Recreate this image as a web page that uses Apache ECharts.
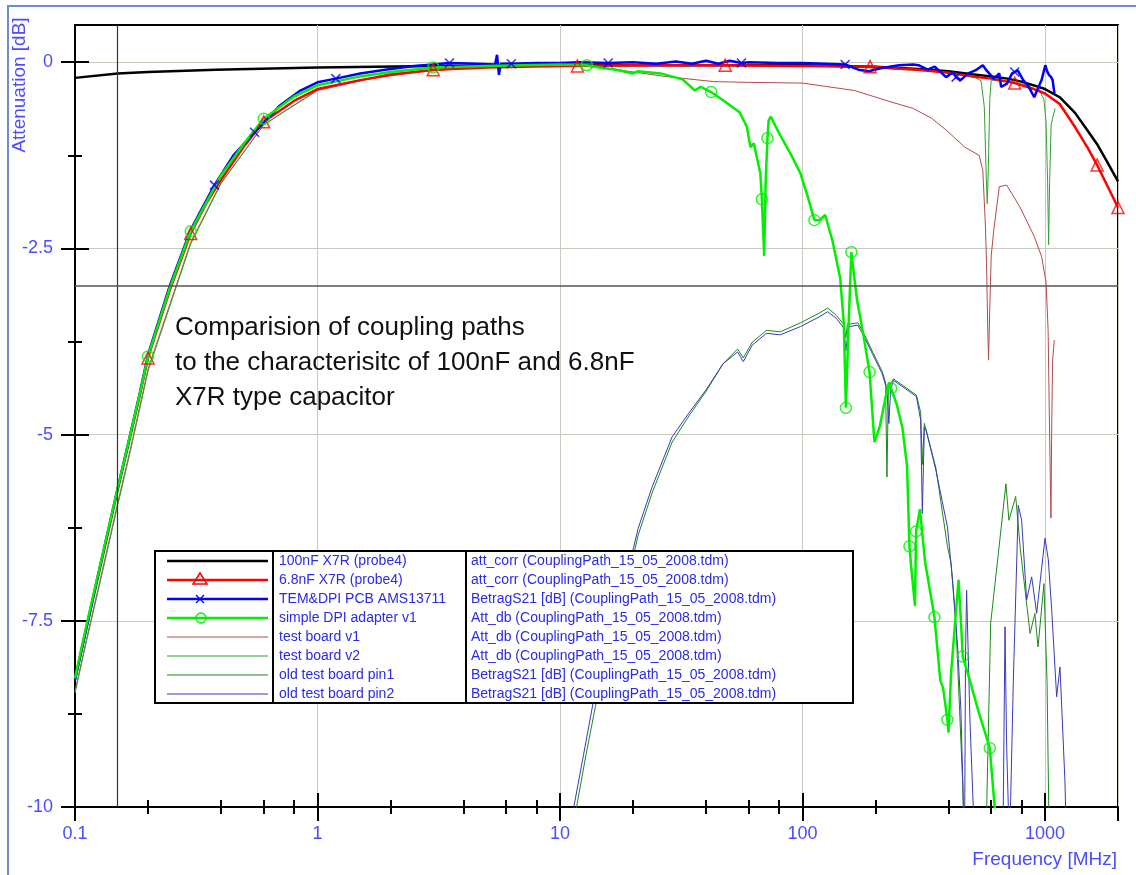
<!DOCTYPE html>
<html>
<head>
<meta charset="utf-8">
<title>Comparision of coupling paths</title>
<script src="https://cdn.jsdelivr.net/npm/echarts@6/dist/echarts.min.js"></script>
<style>
html, body { margin: 0; padding: 0; background: #fff; }
#chart { width: 1136px; height: 875px; }
</style>
</head>
<body>
<div id="chart"></div>
<script>
// axis ranges and ticks
const FREQ_MIN = 0.1;
const FREQ_MAX = 2000;
const DB_MIN = -10;
const DB_MAX = 0.5;
const xMajor = [0.1, 1, 10, 100, 1000];
const xMajorTicks = [0.1, 1, 10, 100, 1000, 2000];
const xMinor = [0.2, 0.4, 0.6, 0.8, 2, 4, 6, 8, 20, 40, 60, 80, 200, 400, 600, 800];
const yMajor = [-10, -7.5, -5, -2.5, 0];
const yMinor = [-8.75, -6.25, -3.75, -1.25];
// cursor lines
const CURSOR_FREQ = 0.15;
const CURSOR_DB = -3;

// [MHz, dB]
const cap100n = [[0.1,-0.21],[0.15,-0.15],[0.2,-0.13],[0.38,-0.1],[1,-0.07],[3,-0.05],[10,-0.04],[100,-0.04],[200,-0.06],[300,-0.09],[400,-0.12],[500,-0.16],[600,-0.19],[700,-0.22],[800,-0.26],[900,-0.31],[1000,-0.36],[1150,-0.47],[1330,-0.68],[1500,-0.92],[1640,-1.1],[1800,-1.33],[2000,-1.6]];

const cap6n8 = [[0.1,-8.29],[0.112,-7.56],[0.127,-6.78],[0.15,-5.74],[0.169,-5.02],[0.185,-4.47],[0.2,-3.97],[0.246,-3.06],[0.3,-2.3],[0.35,-1.88],[0.4,-1.58],[0.5,-1.12],[0.6,-0.8],[0.8,-0.52],[1,-0.36],[1.5,-0.24],[2,-0.17],[3,-0.1],[5,-0.07],[10,-0.05],[20,-0.04],[48,-0.04],[100,-0.05],[190,-0.06],[300,-0.1],[400,-0.14],[500,-0.19],[600,-0.22],[750,-0.28],[900,-0.36],[1000,-0.42],[1150,-0.56],[1330,-0.87],[1500,-1.15],[1640,-1.38],[2000,-1.95]];
const cap6n8Marks = [[0.2,-3.97],[0.3,-2.3],[0.6,-0.8],[3,-0.1],[11.8,-0.05],[48,-0.04],[190,-0.06],[750,-0.28],[1640,-1.38],[2000,-1.95]];

const temDpi = [[0.1,-8.29],[0.127,-6.76],[0.15,-5.72],[0.169,-5.0],[0.185,-4.44],[0.2,-3.93],[0.246,-3.0],[0.3,-2.25],[0.376,-1.65],[0.45,-1.25],[0.55,-0.94],[0.7,-0.58],[0.85,-0.38],[1,-0.27],[1.19,-0.22],[1.5,-0.15],[1.9,-0.1],[2.5,-0.05],[3,-0.03],[3.5,-0.01],[4.5,-0.02],[5.4,-0.03],[5.5,0.1],[5.6,-0.17],[5.7,-0.02],[6.3,-0.02],[8,-0.01],[10,-0.01],[12,0.0],[15.8,-0.01],[20,0.0],[25,-0.02],[30,0.01],[35,-0.02],[40,0.02],[45,-0.02],[50,0.02],[56,-0.01],[60,0.0],[80,-0.01],[100,-0.01],[150,-0.03],[170,-0.1],[188,-0.12],[210,-0.08],[250,-0.04],[286,-0.03],[301,-0.04],[328,-0.1],[351,-0.06],[391,-0.2],[419,-0.13],[430,-0.2],[449,-0.24],[482,-0.15],[516,-0.11],[554,-0.04],[574,-0.11],[615,-0.22],[648,-0.15],[659,-0.33],[695,-0.29],[732,-0.15],[772,-0.11],[813,-0.24],[857,-0.33],[903,-0.47],[935,-0.35],[968,-0.24],[1003,-0.04],[1020,-0.12],[1038,-0.17],[1060,-0.2],[1075,-0.24],[1094,-0.42]];
const temDpiMarks = [[0.376,-1.65],[0.55,-0.94],[1.19,-0.22],[3.5,-0.01],[6.3,-0.02],[15.8,-0.01],[56,-0.01],[150,-0.03],[430,-0.2],[750,-0.13]];

const simpleDpi = [[0.1,-8.27],[0.112,-7.53],[0.127,-6.75],[0.15,-5.72],[0.169,-5.0],[0.185,-4.45],[0.2,-3.95],[0.246,-3.03],[0.3,-2.27],[0.4,-1.52],[0.5,-1.08],[0.6,-0.76],[0.8,-0.46],[1,-0.31],[1.5,-0.19],[2,-0.13],[3,-0.07],[5,-0.05],[10,-0.03],[12.9,-0.04],[14.5,-0.07],[17,-0.1],[20,-0.15],[21,-0.12],[26,-0.15],[32,-0.23],[36,-0.38],[38,-0.33],[42,-0.4],[48,-0.53],[55,-0.67],[59,-0.87],[61,-1.14],[63,-1.09],[67,-1.49],[68,-1.84],[69.5,-2.6],[70.5,-1.6],[71.7,-1.02],[72.5,-0.78],[74,-0.73],[80,-0.95],[90,-1.25],[98,-1.49],[105,-1.8],[112,-2.12],[118,-2.12],[124,-2.05],[133,-2.4],[143,-2.9],[148,-3.5],[151,-4.64],[155,-3.5],[159,-2.55],[163,-2.85],[168,-3.2],[178,-3.65],[189,-4.16],[198,-5.1],[208,-4.9],[220,-4.5],[228,-4.3],[232,-4.38],[245,-4.6],[258,-4.9],[270,-5.43],[276,-6.5],[283,-6.9],[291,-7.3],[294,-6.3],[305,-6.0],[320,-6.7],[350,-7.45],[370,-8.3],[380,-8.4],[396,-8.83],[400,-9.0],[410,-8.2],[440,-6.95],[450,-7.5],[458,-7.98],[490,-8.3],[530,-8.7],[592,-9.21],[620,-10.0],[640,-10.6]];
const simpleDpiMarks = [[0.2,-3.95],[0.3,-2.27],[0.6,-0.76],[3,-0.07],[12.9,-0.04],[42,-0.4],[68,-1.84],[71.7,-1.02],[112,-2.12],[151,-4.64],[159,-2.55],[189,-4.16],[232,-4.38],[276,-6.5],[294,-6.3],[350,-7.45],[396,-8.83],[458,-7.98],[592,-9.21]];

const boardV1 = [[0.1,-8.45],[0.112,-7.72],[0.127,-6.95],[0.15,-5.92],[0.169,-5.2],[0.2,-4.12],[0.3,-2.42],[0.4,-1.62],[0.6,-0.84],[1,-0.38],[2,-0.16],[5,-0.06],[10,-0.04],[15,-0.07],[20,-0.13],[27,-0.19],[43,-0.26],[60,-0.27],[100,-0.28],[164,-0.38],[230,-0.53],[286,-0.62],[340,-0.75],[391,-0.91],[467,-1.14],[535,-1.25],[554,-1.45],[568,-2.2],[574,-2.7],[580,-3.5],[585,-4.0],[592,-3.3],[600,-2.6],[615,-2.25],[648,-1.67],[695,-1.65],[787,-1.94],[903,-2.34],[968,-2.61],[1010,-2.95],[1030,-3.6],[1045,-5.0],[1058,-6.12],[1065,-5.0],[1075,-4.0],[1092,-3.73]];

const boardV2 = [[0.1,-8.47],[0.112,-7.75],[0.127,-6.98],[0.15,-5.95],[0.169,-5.23],[0.2,-4.15],[0.3,-2.44],[0.4,-1.63],[0.6,-0.84],[1,-0.37],[2,-0.15],[5,-0.05],[10,-0.03],[50,-0.03],[100,-0.04],[200,-0.08],[300,-0.11],[400,-0.14],[500,-0.18],[545,-0.25],[562,-0.6],[572,-1.5],[578,-1.9],[584,-1.4],[592,-0.5],[600,-0.24],[700,-0.26],[800,-0.29],[935,-0.33],[990,-0.5],[1010,-0.8],[1025,-1.6],[1035,-2.45],[1045,-1.6],[1060,-0.85],[1075,-0.75],[1100,-0.62]];

const oldPin1 = [[11.2,-10.5],[11.7,-10],[12.8,-9.3],[14,-8.65],[16,-7.75],[18,-7.1],[20,-6.65],[21,-6.35],[24,-5.78],[29,-5.1],[34,-4.75],[40,-4.42],[47,-4.05],[54,-3.85],[57,-3.97],[62,-3.76],[71,-3.6],[81,-3.62],[98,-3.5],[117,-3.37],[127,-3.3],[138,-3.4],[148,-3.52],[151,-3.7],[153,-3.52],[169,-3.5],[178,-3.62],[194,-3.88],[213,-4.15],[220,-4.3],[223,-5.57],[226,-4.4],[237,-4.25],[270,-4.38],[295,-4.47],[307,-4.7],[312,-5.4],[318,-4.85],[355,-5.45],[396,-6.5],[410,-6.73],[430,-7.6],[458,-9.7],[465,-10.6],[540,-11],[575,-10],[597,-7.53],[640,-6.64],[690,-5.66],[710,-6.15],[757,-5.83],[792,-6.55],[868,-7.67],[908,-7.4],[936,-7.85],[990,-7.0],[1020,-8.34],[1036,-10],[1045,-11]];

const oldPin2 = [[11.0,-10.5],[11.4,-10],[12.5,-9.3],[13.7,-8.6],[16,-7.6],[18,-7.0],[20,-6.55],[21,-6.26],[24,-5.7],[29,-5.03],[34,-4.71],[40,-4.4],[47,-4.05],[54,-3.89],[57,-4.02],[62,-3.8],[71,-3.64],[81,-3.66],[98,-3.55],[117,-3.42],[127,-3.35],[138,-3.44],[148,-3.57],[151,-3.87],[155,-3.55],[169,-3.53],[178,-3.66],[194,-3.91],[213,-4.18],[223,-4.4],[227,-4.85],[231,-4.4],[237,-4.27],[270,-4.4],[295,-4.49],[307,-4.8],[312,-6.06],[318,-4.9],[324,-4.95],[355,-5.48],[396,-6.24],[417,-7.0],[437,-7.89],[450,-8.7],[461,-10],[466,-10.5],[470,-8.0],[475,-7.09],[490,-8.8],[506,-10],[520,-11],[660,-11],[673,-10],[684,-7.58],[695,-9.2],[706,-10],[715,-10.5],[740,-8.33],[776,-5.95],[801,-6.15],[840,-7.22],[881,-6.91],[924,-7.4],[953,-7.0],[1000,-6.39],[1032,-6.68],[1066,-7.36],[1117,-8.52],[1153,-8.12],[1208,-9.64],[1216,-10],[1230,-11]];

// legend table text
const legendNames = ['100nF X7R (probe4)', '6.8nF X7R (probe4)', 'TEM&DPI PCB AMS13711', 'simple DPI adapter v1',
    'test board v1', 'test board v2', 'old test board pin1', 'old test board pin2'];
const legendSources = ['att_corr (CouplingPath_15_05_2008.tdm)', 'att_corr (CouplingPath_15_05_2008.tdm)',
    'BetragS21 [dB] (CouplingPath_15_05_2008.tdm)', 'Att_db (CouplingPath_15_05_2008.tdm)',
    'Att_db (CouplingPath_15_05_2008.tdm)', 'Att_db (CouplingPath_15_05_2008.tdm)',
    'BetragS21 [dB] (CouplingPath_15_05_2008.tdm)', 'BetragS21 [dB] (CouplingPath_15_05_2008.tdm)'];
const noteLines = ['Comparision of coupling paths', 'to the characterisitc of 100nF and 6.8nF', 'X7R type capacitor'];

const colors = ['#000000', '#ff0000', '#0000ff', '#00f000', '#b34a4a', '#33a033', '#1a8a1a', '#3a3ab8'];
const widths = [2.5, 2.5, 2.5, 2.5, 1, 1, 1, 1];
const markers = [null, 'triangle', 'cross', 'circle', null, null, null, null];

const LABEL_BLUE = '#4b4bff';
const TEXT_BLUE = '#2a2ae8';
const FONT = 'Liberation Sans';

var myChart = echarts.init(document.getElementById('chart'));

function xAxisPart(ticks, len, inside, extra) {
    return Object.assign({
        type: 'log',
        logBase: 10,
        min: FREQ_MIN,
        max: FREQ_MAX,
        position: 'bottom',
        axisLine: { show: false, onZero: false },
        axisTick: { show: true, inside: inside, length: len, customValues: ticks, lineStyle: { color: '#000', width: 2 } },
        axisLabel: { show: false },
        splitLine: { show: false }
    }, extra || {});
}
function yAxisPart(ticks, len, inside, extra) {
    return Object.assign({
        type: 'value',
        min: DB_MIN,
        max: DB_MAX,
        interval: 2.5,
        position: 'left',
        axisLine: { show: false, onZero: false },
        axisTick: { show: true, inside: inside, length: len, customValues: ticks, lineStyle: { color: '#000', width: 2 } },
        axisLabel: { show: false },
        splitLine: { show: false }
    }, extra || {});
}

function lineSeries(name, data, i, z, extra) {
    return Object.assign({
        name: name,
        type: 'line',
        data: data,
        showSymbol: false,
        symbol: 'none',
        clip: true,
        silent: true,
        z: z,
        lineStyle: { color: colors[i], width: widths[i] },
        itemStyle: { color: colors[i] }
    }, extra || {});
}
function markSeries(data, i, symbol, size, z) {
    return {
        type: 'scatter',
        data: data,
        symbol: symbol,
        symbolSize: size,
        silent: true,
        z: z,
        itemStyle: { color: 'rgba(0,0,0,0)', borderColor: colors[i], borderWidth: 1.5 }
    };
}

// legend table drawn as graphic
var graphics = [];
var boxX = 155, boxY = 551, boxW = 698, boxH = 152;
graphics.push({ type: 'rect', z: 100, silent: true, shape: { x: boxX, y: boxY, width: boxW, height: boxH }, style: { fill: '#fff', stroke: '#000', lineWidth: 2 } });
graphics.push({ type: 'line', z: 101, silent: true, shape: { x1: 273, y1: boxY, x2: 273, y2: boxY + boxH }, style: { stroke: '#000', lineWidth: 2 } });
graphics.push({ type: 'line', z: 101, silent: true, shape: { x1: 466, y1: boxY, x2: 466, y2: boxY + boxH }, style: { stroke: '#000', lineWidth: 2 } });
legendNames.forEach(function (nm, i) {
    var cy = 561 + i * 19;
    graphics.push({ type: 'line', z: 101, silent: true, shape: { x1: 167, y1: cy, x2: 268, y2: cy }, style: { stroke: colors[i], lineWidth: widths[i] } });
    if (markers[i] === 'triangle') {
        graphics.push({ type: 'polygon', z: 102, silent: true, shape: { points: [[200, cy - 7], [193, cy + 4], [207, cy + 4]] }, style: { fill: 'none', stroke: colors[i], lineWidth: 1.5 } });
    } else if (markers[i] === 'cross') {
        graphics.push({ type: 'polyline', z: 102, silent: true, shape: { points: [[196, cy - 4], [204, cy + 4]] }, style: { stroke: colors[i], lineWidth: 1.2 } });
        graphics.push({ type: 'polyline', z: 102, silent: true, shape: { points: [[204, cy - 4], [196, cy + 4]] }, style: { stroke: colors[i], lineWidth: 1.2 } });
    } else if (markers[i] === 'circle') {
        graphics.push({ type: 'circle', z: 102, silent: true, shape: { cx: 201, cy: cy, r: 5 }, style: { fill: 'none', stroke: colors[i], lineWidth: 1.3 } });
    }
    graphics.push({ type: 'text', z: 102, silent: true, x: 279, y: cy, style: { text: nm, fontSize: 14, fontFamily: FONT, fill: TEXT_BLUE, verticalAlign: 'middle' } });
    graphics.push({ type: 'text', z: 102, silent: true, x: 471, y: cy, style: { text: legendSources[i], fontSize: 14, fontFamily: FONT, fill: TEXT_BLUE, verticalAlign: 'middle' } });
});
// outer frame, axis names, note
graphics.push({ type: 'rect', z: -10, silent: true, shape: { x: 8, y: 6, width: 1150, height: 890 }, style: { fill: 'none', stroke: '#6f8fcc', lineWidth: 2 } });
graphics.push({ type: 'text', silent: true, x: 20, y: 85, rotation: Math.PI / 2, style: { text: 'Attenuation [dB]', fontSize: 19, fontFamily: FONT, fill: LABEL_BLUE, align: 'center', verticalAlign: 'middle' } });
graphics.push({ type: 'text', silent: true, x: 1117, y: 860, style: { text: 'Frequency [MHz]', fontSize: 19, fontFamily: FONT, fill: LABEL_BLUE, align: 'right', verticalAlign: 'middle' } });
graphics.push({ type: 'text', silent: true, z: 50, x: 175, y: 310, style: { text: noteLines.join('\n'), fontSize: 26, fontFamily: FONT, lineHeight: 35, fill: '#111', verticalAlign: 'top' } });

var option = {
    animation: false,
    backgroundColor: '#fff',
    grid: {
        left: 75, top: 25, right: 18, bottom: 68,
        containLabel: false,
        outerBoundsMode: 'none',
        show: true,
        borderColor: '#000',
        borderWidth: 2,
        backgroundColor: 'transparent'
    },
    xAxis: [
        xAxisPart(xMajorTicks, 14, false, {
            axisLine: { show: true, onZero: false, lineStyle: { color: '#000', width: 2 } },
            axisLabel: { show: true, customValues: xMajor, formatter: function (v) { return String(v); }, color: LABEL_BLUE, fontSize: 18, fontFamily: FONT, margin: 18 },
            splitLine: { show: true, lineStyle: { color: '#c9c9bd', width: 1 } }
        }),
        xAxisPart(xMajor, 14, true),
        xAxisPart(xMinor, 7, false),
        xAxisPart(xMinor, 7, true)
    ],
    yAxis: [
        yAxisPart(yMajor, 14, false, {
            axisLine: { show: true, onZero: false, lineStyle: { color: '#000', width: 2 } },
            axisLabel: { show: true, customValues: yMajor, formatter: function (v) { return String(v); }, color: LABEL_BLUE, fontSize: 18, fontFamily: FONT, margin: 22 },
            splitLine: { show: true, lineStyle: { color: '#c9c9bd', width: 1 } }
        }),
        yAxisPart(yMajor, 14, true),
        yAxisPart(yMinor, 7, false),
        yAxisPart(yMinor, 7, true)
    ],
    series: [
        lineSeries(legendNames[4], boardV1, 4, 2, {
            markLine: {
                silent: true,
                symbol: ['none', 'none'],
                label: { show: false },
                data: [
                    { xAxis: CURSOR_FREQ, lineStyle: { color: '#333', width: 1.2, type: 'solid' } },
                    { yAxis: CURSOR_DB, lineStyle: { color: '#555', width: 1.5, type: 'solid' } }
                ]
            }
        }),
        lineSeries(legendNames[5], boardV2, 5, 2),
        lineSeries(legendNames[6], oldPin1, 6, 2),
        lineSeries(legendNames[7], oldPin2, 7, 2),
        lineSeries(legendNames[0], cap100n, 0, 3),
        lineSeries(legendNames[1], cap6n8, 1, 3),
        lineSeries(legendNames[2], temDpi, 2, 4),
        lineSeries(legendNames[3], simpleDpi, 3, 4),
        markSeries(cap6n8Marks, 1, 'triangle', 12, 6),
        markSeries(temDpiMarks, 2, 'path://M0,0L10,10M10,0L0,10', 9, 6),
        markSeries(simpleDpiMarks, 3, 'circle', 11, 6)
    ],
    graphic: graphics
};

myChart.setOption(option);
</script>
</body>
</html>
